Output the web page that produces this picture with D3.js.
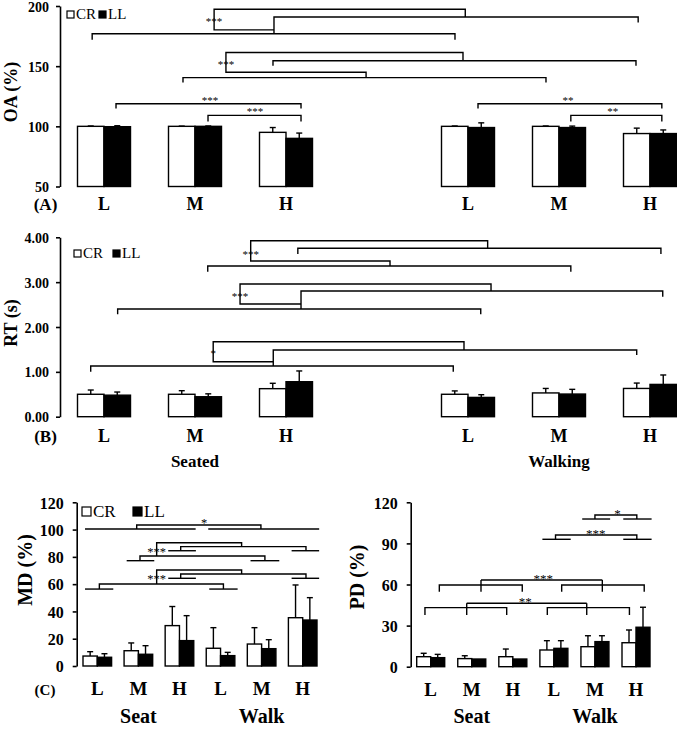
<!DOCTYPE html>
<html>
<head>
<meta charset="utf-8">
<script src="https://cdn.jsdelivr.net/npm/d3@7"></script>
<style>
body { margin: 0; background: #fff; }
svg text { font-family: "Liberation Serif", "Times New Roman", serif; fill: #000; }
</style>
</head>
<body>
<svg id="fig" width="677" height="731"></svg>
<script>
// categories
var levels = ["L", "M", "H", "L", "M", "H"];
var conds = ["Seated", "Walking"];
var condsShort = ["Seat", "Walk"];
var seriesNames = ["CR", "LL"];
var abSlots = [0, 1, 2, 4, 5, 6];   // gap between seated and walking in A/B
var cSlots = [0, 1, 2, 3, 4, 5];

// (A) OA %
var oaCR = [100, 100, 95, 100, 100, 94];
var oaCRsd = [0.3, 0.2, 4, 0.3, 0.3, 4.5];
var oaLL = [99.7, 100, 90, 99, 99, 94];
var oaLLsd = [0.8, 0.3, 4.4, 3.9, 1.2, 3];
var oaTicks = [50, 100, 150, 200];

// (B) RT s
var rtCR = [0.50, 0.50, 0.625, 0.50, 0.53, 0.63];
var rtCRsd = [0.095, 0.08, 0.12, 0.075, 0.10, 0.12];
var rtLL = [0.48, 0.445, 0.78, 0.43, 0.505, 0.72];
var rtLLsd = [0.07, 0.065, 0.24, 0.06, 0.105, 0.21];
var rtTicks = [0, 1, 2, 3, 4];

// (C) MD %
var mdCR = [7.3, 11.2, 29.6, 13, 16.1, 35.4];
var mdCRsd = [3.2, 5.7, 14, 15.1, 12, 24];
var mdLL = [6.4, 8.6, 18.6, 7.6, 12.7, 33.7];
var mdLLsd = [2.6, 6.3, 18.3, 2.4, 6.6, 16.4];
var mdTicks = [0, 20, 40, 60, 80, 100, 120];

// (C) PD %
var pdCR = [7.3, 5.9, 7.3, 12.2, 14.6, 17.5];
var pdCRsd = [2.5, 2.1, 5.6, 6.8, 8, 9.3];
var pdLL = [6.6, 5.6, 5.6, 13.4, 18.3, 28.8];
var pdLLsd = [2.4, 0, 0, 5.6, 4.3, 14.6];
var pdTicks = [0, 30, 60, 90, 120];

// significance brackets, as polylines in (slot, value) units
function br(x1, x2, y, t1, t2) { return [[x1, t1], [x1, y], [x2, y], [x2, t2]]; }

var oaLinks = [
  br(-0.13, 3.857, 176.9, 171.9, 171.9),
  br(1.868, 5.87, 190.9, 176.9, 186.2),
  [[3.97, 190.9], [3.97, 197.3], [1.21, 197.3], [1.21, 180.2], [1.868, 180.2]],
  br(0.868, 4.857, 140.5, 136.4, 136.4),
  br(1.857, 5.846, 154.5, 150.4, 150.4),
  [[3.945, 154.5], [3.945, 161.4], [1.34, 161.4], [1.34, 144.9], [2.88, 144.9], [2.88, 140.5]],
  br(0.132, 2.165, 118.8, 114.9, 114.9),
  br(1.143, 2.165, 109.1, 104.1, 104.1),
  br(4.11, 6.13, 118.8, 114.9, 114.9),
  br(5.13, 6.13, 109.1, 104.1, 104.1)
];
var oaStars = [[1.21, 188.4, "***"], [1.34, 153.1, "***"], [1.165, 123, "***"], [1.66, 114, "***"], [5.1, 123, "**"], [5.59, 114, "**"]];

var rtLinks = [
  br(1.14, 5.13, 3.36, 3.233, 3.233),
  br(2.13, 6.12, 3.755, 3.628, 3.628),
  [[4.216, 3.755], [4.216, 3.924], [1.612, 3.924], [1.612, 3.472], [3.143, 3.472], [3.143, 3.36]],
  br(0.15, 4.14, 2.401, 2.283, 2.283),
  br(2.165, 6.14, 2.803, 2.401, 2.676),
  [[4.253, 2.803], [4.253, 2.959], [1.495, 2.959], [1.495, 2.513], [2.165, 2.513]],
  br(-0.146, 3.838, 1.13, 1.003, 1.003),
  br(1.86, 5.854, 1.487, 1.13, 1.376),
  [[3.956, 1.487], [3.956, 1.672], [1.2, 1.672], [1.2, 1.226], [1.86, 1.226]]
];
var rtStars = [[1.612, 3.666, "***"], [1.495, 2.729, "***"], [1.2, 1.449, "*"]];

var mdLinks = [
  [[-0.299, 100.4], [2.394, 100.4]],
  [[2.701, 100.4], [5.401, 100.4]],
  br(0.959, 3.983, 103.4, 100.4, 100.4),
  [[1.727, 84.5], [2.40, 84.5]], [[4.73, 84.5], [5.40, 84.5]],
  br(2.03, 5.08, 87.5, 84.5, 84.5),
  [[0.715, 77.2], [1.387, 77.2]], [[3.73, 77.2], [4.43, 77.2]],
  br(1.039, 4.08, 80.6, 77.2, 77.2),
  [[3.513, 87.5], [3.513, 90.4], [1.445, 90.4], [1.445, 80.6]],
  [[1.727, 64.3], [2.40, 64.3]], [[4.73, 64.3], [5.40, 64.3]],
  br(2.03, 5.08, 67.4, 64.3, 64.3),
  [[-0.299, 56.4], [0.389, 56.4]], [[2.725, 56.4], [3.416, 56.4]],
  br(0.05, 3.07, 60.1, 56.4, 56.4),
  [[3.513, 67.4], [3.513, 70.4], [1.445, 70.4], [1.445, 60.1]]
];
var mdStars = [[2.6, 106.5, "*"], [1.445, 85, "***"], [1.445, 65.5, "***"]];

var pdLinks = [
  br(-0.14, 1.851, 43.1, 37.7, 37.7), [[0.877, 37.7], [0.877, 46.3]],
  br(2.84, 4.84, 43.1, 37.7, 37.7), [[3.8, 37.7], [3.8, 46.3]],
  [[0.877, 46.3], [3.8, 46.3]],
  br(0.21, 2.23, 59.6, 54.7, 54.7), [[1.225, 54.7], [1.225, 63.3]],
  br(3.19, 5.2, 59.6, 54.7, 54.7), [[4.18, 54.7], [4.18, 63.3]],
  [[1.225, 63.3], [4.18, 63.3]],
  [[2.72, 93], [3.41, 93]], [[4.69, 93], [5.38, 93]],
  br(3.04, 5.02, 96.1, 93, 93),
  [[3.69, 107.8], [4.37, 107.8]], [[4.69, 107.8], [5.38, 107.8]],
  br(4.0, 5.02, 110.7, 107.8, 107.8)
];
var pdStars = [[2.3, 49.2, "**"], [2.74, 66.2, "***"], [4.02, 98.5, "***"], [4.55, 113.6, "*"]];

var svg = d3.select("#fig");

function drawPanel(p) {
  var g = svg.append("g");
  var x = p.x, y = p.y;

  var yAxis = d3.axisLeft(y).tickValues(p.ticks).tickSize(4).tickSizeOuter(0).tickPadding(p.pad);
  if (p.fmt) yAxis.tickFormat(p.fmt);
  var ax = g.append("g").attr("transform", "translate(" + p.axisX + ",0)").call(yAxis);
  ax.select(".domain").attr("stroke", "#000").attr("stroke-width", 1.6);
  ax.selectAll(".tick line").attr("stroke", "#000").attr("stroke-width", 1.6);
  ax.selectAll(".tick text").style("font-size", p.tickFont + "px").style("font-weight", "bold")
    .attr("dy", "0.36em").attr("fill", "#000");

  // brackets
  var line = d3.line().x(function(d) { return x(d[0]); }).y(function(d) { return y(d[1]); });
  g.selectAll(null).data(p.links).enter().append("path")
    .attr("d", line).attr("fill", "none").attr("stroke", "#000").attr("stroke-width", 1.4);
  g.selectAll(null).data(p.stars).enter().append("text")
    .attr("x", function(d) { return x(d[0]); })
    .attr("y", function(d) { return y(d[1]) + p.starFont * 0.5; })
    .attr("text-anchor", "middle")
    .style("font-size", p.starFont + "px")
    .style("opacity", 0.99)
    .text(function(d) { return d[2]; });

  // bars + error bars
  p.series.forEach(function(s, k) {
    var rows = s.values.map(function(v, i) {
      return { v: v, sd: s.sd[i], cx: x(p.slots[i]) + (k == 0 ? -p.bw / 2 : p.bw / 2) };
    });
    g.selectAll(null).data(rows).enter().append("rect")
      .attr("x", function(d) { return d.cx - p.bw / 2; })
      .attr("y", function(d) { return y(d.v); })
      .attr("width", p.bw)
      .attr("height", function(d) { return y(p.base) - y(d.v); })
      .attr("fill", k == 0 ? "#fff" : "#000")
      .attr("stroke", "#000").attr("stroke-width", 1.4);
    var eb = g.selectAll(null).data(rows.filter(function(d) { return d.sd > 0; })).enter().append("g");
    eb.append("line")
      .attr("x1", function(d) { return d.cx; })
      .attr("x2", function(d) { return d.cx; })
      .attr("y1", function(d) { return y(d.v); })
      .attr("y2", function(d) { return y(d.v + d.sd); })
      .attr("stroke", "#000").attr("stroke-width", 1.4);
    eb.append("line")
      .attr("x1", function(d) { return d.cx - 3; })
      .attr("x2", function(d) { return d.cx + 3; })
      .attr("y1", function(d) { return y(d.v + d.sd); })
      .attr("y2", function(d) { return y(d.v + d.sd); })
      .attr("stroke", "#000").attr("stroke-width", 1.4);
  });

  // level labels
  g.selectAll(null).data(levels).enter().append("text")
    .attr("x", function(d, i) { return x(p.slots[i]); })
    .attr("y", p.labelY)
    .attr("text-anchor", "middle")
    .style("font-size", p.labelFont + "px").style("font-weight", "bold")
    .text(function(d) { return d; });

  if (p.tag) {
    g.append("text").attr("x", p.tag[0]).attr("y", p.labelY).attr("text-anchor", "middle")
      .style("font-size", p.tag[2] + "px").style("font-weight", "bold").text(p.tag[1]);
  }
  if (p.conds) {
    g.selectAll(null).data(p.conds).enter().append("text")
      .attr("x", function(d, i) { return x(p.slots[i * 3 + 1]); })
      .attr("y", p.condY)
      .attr("text-anchor", "middle")
      .style("font-size", p.condFont + "px").style("font-weight", "bold")
      .text(function(d) { return d; });
  }
  g.append("text")
    .attr("transform", "translate(" + p.title[1] + "," + p.title[2] + ") rotate(-90)")
    .attr("text-anchor", "middle")
    .style("font-size", p.title[3] + "px").style("font-weight", "bold")
    .text(p.title[0]);

  if (p.legend) {
    var lg = p.legend;
    seriesNames.forEach(function(n, k) {
      g.append("rect").attr("x", lg.x[k]).attr("y", lg.y - lg.box)
        .attr("width", lg.box).attr("height", lg.box)
        .attr("fill", k == 0 ? "#fff" : "#000").attr("stroke", "#000").attr("stroke-width", 1.2);
      g.append("text").attr("x", lg.x[k] + lg.box + 2).attr("y", lg.y + 1)
        .style("font-size", lg.font + "px").text(n);
    });
  }
}

drawPanel({
  x: d3.scaleLinear().domain([0, 6]).range([104, 650]),
  y: d3.scaleLinear().domain([50, 200]).range([186.5, 6]),
  axisX: 60, ticks: oaTicks, tickFont: 14, pad: 7, base: 50,
  slots: abSlots, bw: 26.5,
  series: [{ values: oaCR, sd: oaCRsd }, { values: oaLL, sd: oaLLsd }],
  links: oaLinks, stars: oaStars, starFont: 11,
  labelY: 210, labelFont: 18, tag: [45.5, "(A)", 17],
  title: ["OA (%)", 17, 92, 18],
  legend: { x: [67, 99], y: 18, box: 7, font: 15 }
});

drawPanel({
  x: d3.scaleLinear().domain([0, 6]).range([104, 650]),
  y: d3.scaleLinear().domain([0, 4]).range([416.7, 237.3]),
  axisX: 60, ticks: rtTicks, tickFont: 14, pad: 7, base: 0, fmt: d3.format(".2f"),
  slots: abSlots, bw: 26.5,
  series: [{ values: rtCR, sd: rtCRsd }, { values: rtLL, sd: rtLLsd }],
  links: rtLinks, stars: rtStars, starFont: 11,
  labelY: 442, labelFont: 18, tag: [45.5, "(B)", 17],
  conds: conds, condY: 467, condFont: 17,
  title: ["RT (s)", 17, 323, 18],
  legend: { x: [74, 113], y: 257, box: 7, font: 15 }
});

drawPanel({
  x: d3.scaleLinear().domain([0, 5]).range([97.3, 302.7]),
  y: d3.scaleLinear().domain([0, 120]).range([666, 502.3]),
  axisX: 76.7, ticks: mdTicks, tickFont: 16, pad: 9, base: 0,
  slots: cSlots, bw: 14.3,
  series: [{ values: mdCR, sd: mdCRsd }, { values: mdLL, sd: mdLLsd }],
  links: mdLinks, stars: mdStars, starFont: 12.5,
  labelY: 695, labelFont: 19, tag: [45, "(C)", 15],
  conds: condsShort, condY: 723, condFont: 20,
  title: ["MD (%)", 32, 570, 20],
  legend: { x: [82, 133], y: 516, box: 9, font: 17 }
});

drawPanel({
  x: d3.scaleLinear().domain([0, 5]).range([430.7, 636]),
  y: d3.scaleLinear().domain([0, 120]).range([666.7, 502.3]),
  axisX: 410.7, ticks: pdTicks, tickFont: 16, pad: 9, base: 0,
  slots: cSlots, bw: 14,
  series: [{ values: pdCR, sd: pdCRsd }, { values: pdLL, sd: pdLLsd }],
  links: pdLinks, stars: pdStars, starFont: 13,
  labelY: 695.5, labelFont: 19,
  conds: condsShort, condY: 723, condFont: 20,
  title: ["PD (%)", 364, 577, 20]
});
</script>
</body>
</html>
